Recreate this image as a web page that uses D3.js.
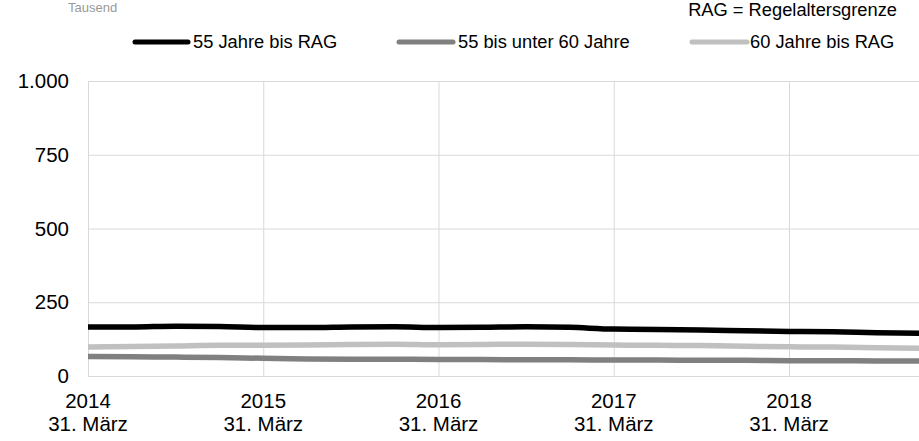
<!DOCTYPE html>
<html><head><meta charset="utf-8">
<script src="https://cdn.jsdelivr.net/npm/d3@7"></script>
<style>body{margin:0;background:#fff}svg{display:block;font-family:"Liberation Sans",Arial,sans-serif}</style>
</head><body><svg id="c" width="919" height="441"></svg>
<script>
// quarter index since 31 März 2014 (quarterly values, Tausend)
const quarters = d3.range(20);
const seriesNames = ["55 Jahre bis RAG", "55 bis unter 60 Jahre", "60 Jahre bis RAG"];
const dark = [66,65,64,63,60,58,57,57,56,56,55,55,54,54,53,53,52,52,51,51];
const light = [98,100,102,104,104,105,107,108,106,107,108,107,105,104,103,101,99,98,96,94];
const total = [166,166,169,168,164,164,166,167,164,165,167,165,159,158,156,153,151,150,147,145];
const yTicks = [0,250,500,750,1000];
const yearLabels = ["2014","2015","2016","2017","2018"];
const dateLabel = "31. März";

const svg = d3.select("#c");
const x = d3.scaleLinear().domain([0,19]).range([88, 88+175.25*19/4]);
const y = d3.scaleLinear().domain([0,1000]).range([376,81]);

// gridlines
const gy = svg.append("g").attr("transform","translate(88,0)")
  .call(d3.axisLeft(y).tickValues(yTicks).tickSize(-(919-88)).tickFormat(""));
gy.selectAll("line").attr("stroke","#d9d9d9");
gy.select(".domain").remove();
const gx = svg.append("g").attr("transform","translate(0,376)")
  .call(d3.axisBottom(x).tickValues([0,4,8,12,16]).tickSize(-(376-81)).tickFormat(""));
gx.selectAll("line").attr("stroke","#d9d9d9");
gx.select(".domain").remove();

// y labels
svg.append("g").selectAll("text").data(yTicks).join("text")
  .attr("x",69).attr("y",d=>y(d)+7).attr("text-anchor","end")
  .attr("font-size",20.5).attr("fill","#000")
  .text(d=>d3.format(",")(d).replace(/,/g,"."));

// x labels
const xl = svg.append("g").selectAll("g").data(yearLabels).join("g");
xl.append("text").attr("x",(d,i)=>x(i*4)).attr("y",408).attr("text-anchor","middle")
  .attr("font-size",20.5).text(d=>d);
xl.append("text").attr("x",(d,i)=>x(i*4)).attr("y",431).attr("text-anchor","middle")
  .attr("font-size",20.5).text(dateLabel);

// lines
const colors = ["#000000","#808080","#c0c0c0"];
const data = [total, dark, light];
const line = d3.line().x((d,i)=>x(quarters[i])).y(d=>y(d)).curve(d3.curveMonotoneX);
[2,1,0].forEach(k=>{
  svg.append("path").datum(data[k]).attr("d",line).attr("fill","none")
    .attr("stroke",colors[k]).attr("stroke-width",5.5).attr("stroke-linejoin","round");
});

// legend
const lg = [{x1:135,x2:188,tx:193},{x1:399,x2:453,tx:458},{x1:692,x2:747,tx:750}];
lg.forEach((p,k)=>{
  svg.append("line").attr("x1",p.x1).attr("x2",p.x2).attr("y1",42).attr("y2",42)
    .attr("stroke",colors[k]).attr("stroke-width",5).attr("stroke-linecap","round");
  svg.append("text").attr("x",p.tx).attr("y",48).attr("font-size",18.3).text(seriesNames[k]);
});
svg.append("text").attr("x",897).attr("y",16).attr("text-anchor","end").attr("font-size",18.3)
  .text("RAG = Regelaltersgrenze");
svg.append("text").attr("x",68).attr("y",12).attr("font-size",13).attr("fill","#999").text("Tausend");
</script></body></html>
